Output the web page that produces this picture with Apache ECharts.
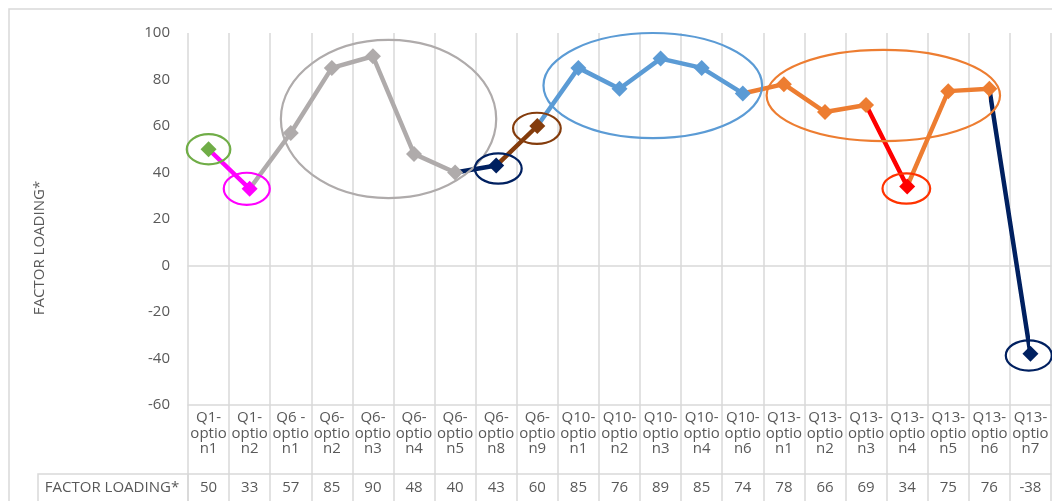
<!DOCTYPE html>
<html>
<head>
<meta charset="utf-8">
<script src="https://cdn.jsdelivr.net/npm/echarts@6/dist/echarts.min.js"></script>
<style>
html, body { margin: 0; padding: 0; background: #fff; }
#main { width: 1052px; height: 501px; }
</style>
</head>
<body>
<div id="main"></div>
<script>
var categories = ['Q1-option1', 'Q1-option2', 'Q6 -option1', 'Q6-option2', 'Q6-option3', 'Q6-option4',
	'Q6-option5', 'Q6-option8', 'Q6-option9', 'Q10-option1', 'Q10-option2', 'Q10-option3', 'Q10-option4',
	'Q10-option6', 'Q13-option1', 'Q13-option2', 'Q13-option3', 'Q13-option4', 'Q13-option5',
	'Q13-option6', 'Q13-option7'];
var loadings = [50, 33, 57, 85, 90, 48, 40, 43, 60, 85, 76, 89, 85, 74, 78, 66, 69, 34, 75, 76, -38];
var yTicks = { min: -60, max: 100, step: 20 };

// the hand drawn rings: [category position, value, half width (categories), half height (value units)]
var rings = [
	[0, 50, 0.53, 6.5],
	[0.93, 33, 0.56, 6.9],
	[4.38, 63, 2.62, 34],
	[7.05, 41.7, 0.57, 6.5],
	[7.99, 59, 0.58, 6.7],
	[10.81, 77.4, 2.66, 22.6],
	[16.42, 73.1, 2.84, 19.6],
	[16.98, 33.1, 0.58, 6.5],
	[19.96, -38.7, 0.56, 6.5]
];

// colours
var GREEN = '#70AD47', PINK = '#FF00FF', GREY = '#AFABAB', NAVY = '#002060', BROWN = '#843C0C',
	BLUE = '#5B9BD5', ORANGE = '#ED7D31', RED = '#FF0000';
var pointColors = [GREEN, PINK, GREY, GREY, GREY, GREY, GREY, NAVY, BROWN, BLUE, BLUE, BLUE, BLUE, BLUE,
	ORANGE, ORANGE, ORANGE, RED, ORANGE, ORANGE, NAVY];
var ringColors = [GREEN, PINK, GREY, NAVY, BROWN, BLUE, ORANGE, '#FF3300', NAVY];

var FONT = 'Open Sans';
var TXT = '#595959';
var GRIDC = '#D9D9D9';

// excel style wrapping: "Q1-" / "optio" / "n1"
function wrapCat(s) {
	var p = s.split('-');
	return p[0] + '-\n' + p[1].slice(0, 5) + '\n' + p[1].slice(5);
}

var pieces = pointColors.map(function (c, i) {
	return i == 0 ? { lte: 0, color: c } : { gt: i - 1, lte: i, color: c };
});

var myChart = echarts.init(document.getElementById('main'));

var option = {
	animation: false,
	grid: { left: 188, right: 1, top: 33, bottom: 96 },
	visualMap: {
		show: false,
		type: 'piecewise',
		seriesIndex: 0,
		dimension: 0,
		pieces: pieces
	},
	xAxis: [
		{
			type: 'category',
			data: categories,
			boundaryGap: true,
			axisLine: { onZero: true, lineStyle: { color: GRIDC, width: 1.5 } },
			axisTick: { show: false },
			axisLabel: { show: false },
			splitLine: { show: true, interval: 0, lineStyle: { color: GRIDC, width: 1.5 } }
		},
		{
			type: 'category',
			data: categories,
			position: 'bottom',
			axisLine: { onZero: false, lineStyle: { color: GRIDC, width: 1.5 } },
			axisTick: { show: true, interval: 0, length: 96, lineStyle: { color: GRIDC, width: 1.5 } },
			axisLabel: {
				interval: 0, margin: 5, color: TXT, fontFamily: FONT, fontSize: 15, lineHeight: 15.5,
				formatter: wrapCat
			},
			splitLine: { show: false }
		},
		{
			type: 'category',
			data: categories,
			position: 'bottom',
			offset: 69,
			axisLine: { onZero: false, lineStyle: { color: GRIDC, width: 1.5 } },
			axisTick: { show: false },
			axisLabel: {
				interval: 0, margin: 6, color: TXT, fontFamily: FONT, fontSize: 15,
				formatter: function (v, i) { return String(loadings[i]); }
			},
			splitLine: { show: false }
		}
	],
	yAxis: {
		type: 'value',
		min: yTicks.min,
		max: yTicks.max,
		interval: yTicks.step,
		axisLine: { show: false },
		axisTick: { show: false },
		splitLine: { show: false },
		axisLabel: { color: TXT, fontFamily: FONT, fontSize: 15, margin: 18 }
	},
	graphic: [
		{
			type: 'rect', silent: true, z: -1,
			shape: { x: 9, y: 9, width: 1100, height: 600 },
			style: { fill: 'none', stroke: GRIDC, lineWidth: 1.5 }
		},
		{
			type: 'rect', silent: true,
			shape: { x: 38, y: 474, width: 150, height: 40 },
			style: { fill: 'none', stroke: GRIDC, lineWidth: 1.5 }
		},
		{
			type: 'text', silent: true,
			x: 112, y: 488,
			style: {
				text: 'FACTOR LOADING*', fill: TXT, font: '15px "Open Sans"',
				textAlign: 'center', textVerticalAlign: 'middle'
			}
		},
		{
			type: 'text', silent: true,
			x: 40, y: 248, rotation: Math.PI / 2,
			style: {
				text: 'FACTOR LOADING*', fill: TXT, font: '15px "Open Sans"',
				textAlign: 'center', textVerticalAlign: 'middle'
			}
		}
	],
	series: [
		{
			name: 'FACTOR LOADING*',
			type: 'line',
			data: loadings,
			symbol: 'diamond',
			symbolSize: 16,
			showAllSymbol: true,
			lineStyle: { width: 4.5 },
			z: 3
		},
		{
			type: 'custom',
			xAxisIndex: 0,
			data: rings,
			encode: { x: 0, y: 1 },
			clip: false,
			z: 5,
			silent: true,
			renderItem: function (params, api) {
				var base = api.coord([0, api.value(1)]);
				var w = api.size([1, 0])[0];
				var h = api.size([0, 1])[1];
				return {
					type: 'ellipse',
					shape: {
						cx: base[0] + api.value(0) * w,
						cy: base[1],
						rx: api.value(2) * w,
						ry: api.value(3) * h
					},
					style: { fill: 'none', stroke: ringColors[params.dataIndex], lineWidth: 2.2 }
				};
			}
		}
	]
};

myChart.setOption(option);
</script>
</body>
</html>
